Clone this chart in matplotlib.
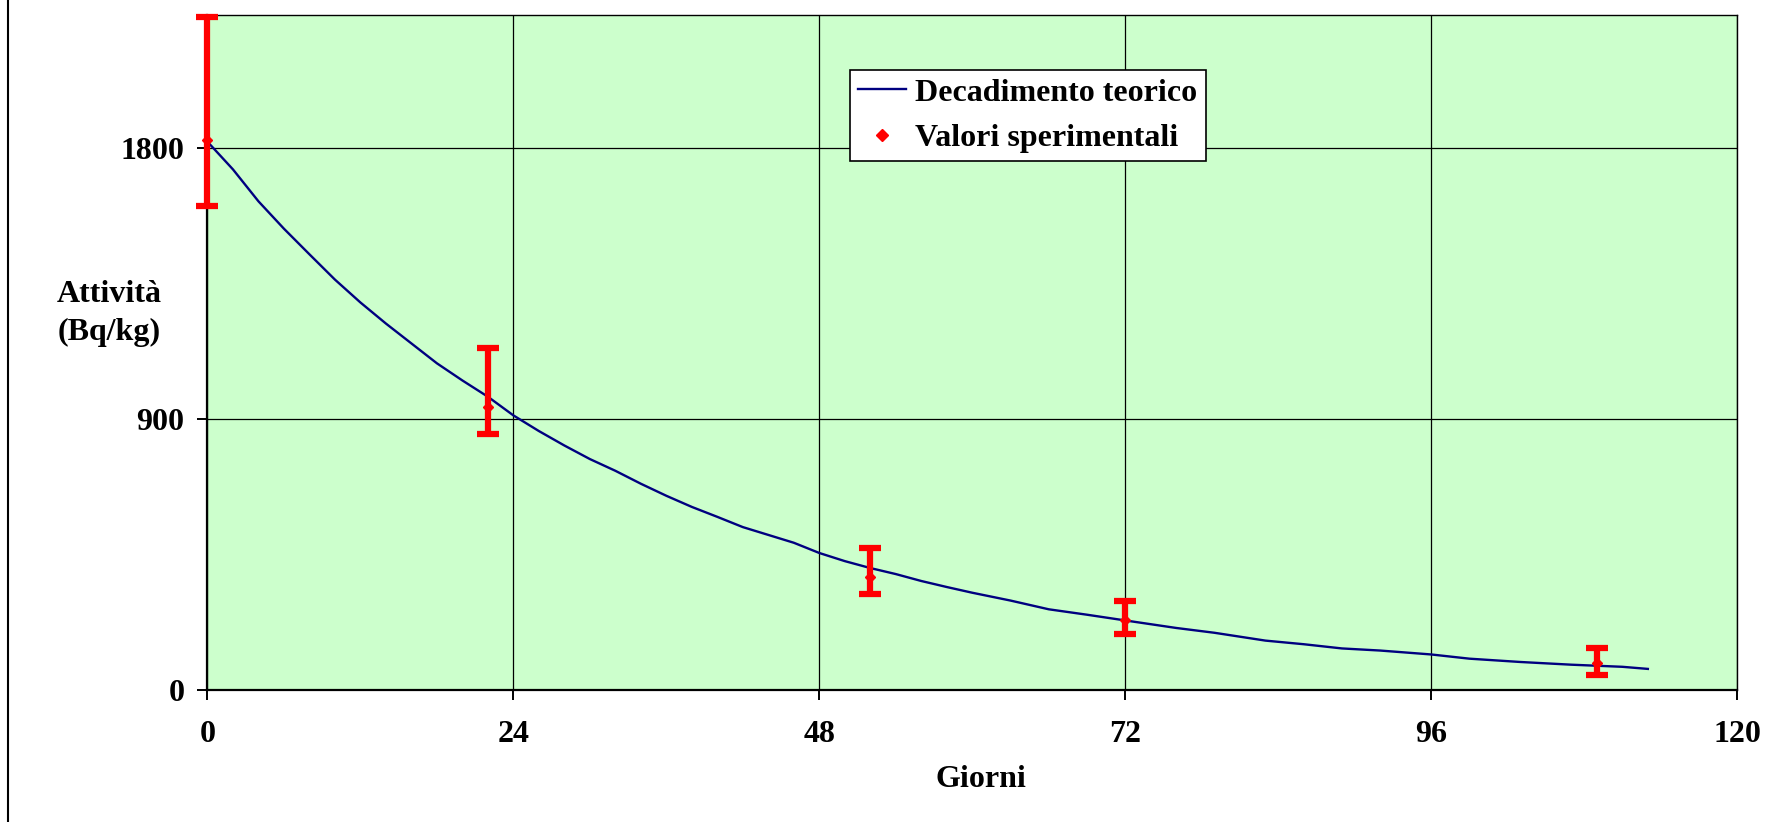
import matplotlib
matplotlib.use('Agg')
import matplotlib.pyplot as plt
from matplotlib.lines import Line2D

# theoretical decay curve
giorni_teo = [0, 2, 4, 6, 8, 10, 12, 14, 16, 18, 20, 22, 24, 26, 28, 30, 32, 34,
              36, 38, 40, 42, 44, 46, 48, 50, 52, 54, 56, 58, 60, 63, 66, 69, 72,
              76, 79, 83, 86, 89, 92, 96, 99, 103, 107, 111, 113]
attivita_teo = [1821, 1729, 1623, 1532, 1447, 1363, 1287, 1217, 1151, 1085, 1028,
                974, 912, 860, 812, 767, 728, 685, 645, 608, 575, 541, 515, 489,
                455, 428, 405, 385, 362, 342, 323, 297, 268, 250, 231, 206, 190,
                164, 152, 138, 131, 118, 104, 93, 84, 77, 70]

# experimental values with (asymmetric) errors
giorni_exp = [0, 22, 52, 72, 109]
attivita_exp = [1826, 941, 376, 231, 91]
err_basso = [219, 92, 57, 45, 40]
err_alto = [409, 194, 95, 66, 48]

xticks = [0, 24, 48, 72, 96, 120]
yticks = [0, 900, 1800]

plt.rcParams['font.family'] = ['Liberation Serif', 'DejaVu Serif']
plt.rcParams['font.weight'] = 'bold'

fig = plt.figure(figsize=(17.84, 8.22), dpi=100)
ax = fig.add_axes([0.1163, 0.1606, 0.8574, 0.8212])
ax.set_facecolor('#CCFFCC')

ax.plot(giorni_teo, attivita_teo, color='#000080', linewidth=1.7, zorder=3)
eb = ax.errorbar(giorni_exp, attivita_exp, yerr=[err_basso, err_alto], fmt='none',
                 ecolor='#FF0000', elinewidth=4.5, capsize=8, capthick=4.5, zorder=4)
for art in eb.lines[1] + eb.lines[2]:
    art.set_clip_on(False)
ax.plot(giorni_exp, attivita_exp, 'D', color='#FF0000', markersize=5, zorder=5,
        clip_on=False)

ax.set_xlim(0, 120)
ax.set_ylim(0, 2242)
ax.set_xticks(xticks)
ax.set_yticks(yticks)
ax.grid(True, color='black', linewidth=0.9)
ax.set_axisbelow(True)

for s in ['left', 'bottom']:
    ax.spines[s].set_linewidth(1.6)
for s in ['top', 'right']:
    ax.spines[s].set_linewidth(1.0)

ax.tick_params(axis='both', direction='out', length=7.5, width=1.4, labelsize=23)
ax.tick_params(axis='x', pad=14)
ax.tick_params(axis='y', pad=9)

fig.text(0.061, 0.619, 'Attività\n(Bq/kg)', ha='center', va='center',
         fontsize=23, fontweight='bold', linespacing=1.4)
fig.text(0.55, 0.052, 'Giorni', ha='center', va='center', fontsize=23,
         fontweight='bold')

handles = [Line2D([], [], color='#000080', linewidth=1.7),
           Line2D([], [], marker='D', color='#FF0000', linestyle='none', markersize=6)]
leg = ax.legend(handles, ['Decadimento teorico', 'Valori sperimentali'],
                loc='upper left', bbox_to_anchor=(0.42, 0.918), fontsize=23,
                fancybox=False, framealpha=1, edgecolor='black',
                handlelength=1.5, handletextpad=0.3, labelspacing=0.5,
                borderpad=0.25, borderaxespad=0)
leg.get_frame().set_linewidth(1.2)

# left border of the chart area
fig.add_artist(Line2D([8 / 1784, 8 / 1784], [0, 1], color='black', linewidth=1.5,
                      transform=fig.transFigure))

fig.savefig('out.png', dpi=100)
